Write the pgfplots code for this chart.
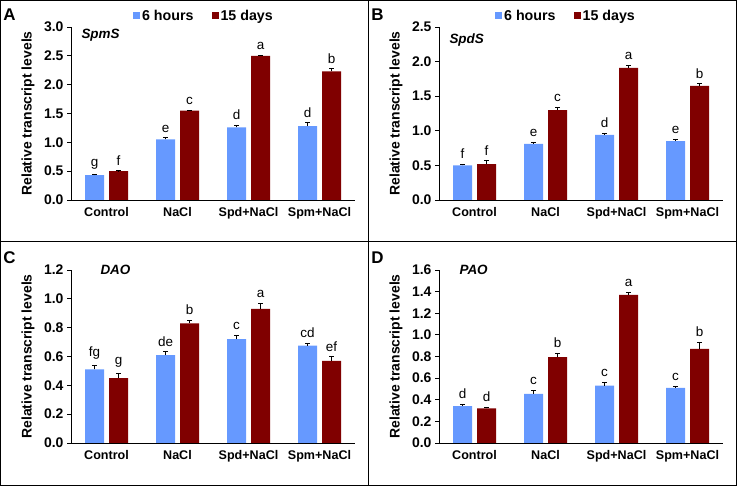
\documentclass[border=0pt]{standalone}
\usepackage{pgfplots}
\pgfplotsset{compat=1.18}
\usepackage{pgfplotstable}
\usepackage{fontspec}
\setmainfont{Liberation Sans}
\definecolor{cblue}{RGB}{102,153,255}
\definecolor{cred}{RGB}{128,0,0}

\pgfplotstableread{
x v6 e6 l6 v15 e15 l15
0 0.43 0.015 g 0.50 0.01 f
1 1.05 0.03 e 1.55 0.01 c
2 1.26 0.03 d 2.50 0.01 a
3 1.28 0.06 d 2.23 0.045 b
}\tA
\pgfplotstableread{
x v6 e6 l6 v15 e15 l15
0 0.50 0.02 f 0.52 0.05 f
1 0.81 0.02 e 1.30 0.035 c
2 0.94 0.02 d 1.91 0.04 a
3 0.85 0.025 e 1.65 0.03 b
}\tB
\pgfplotstableread{
x v6 e6 l6 v15 e15 l15
0 0.51 0.03 fg 0.45 0.035 g
1 0.61 0.023 de 0.83 0.02 b
2 0.72 0.025 c 0.93 0.037 a
3 0.675 0.018 cd 0.57 0.028 ef
}\tC
\pgfplotstableread{
x v6 e6 l6 v15 e15 l15
0 0.34 0.015 d 0.32 0.01 d
1 0.455 0.034 c 0.795 0.034 b
2 0.53 0.034 c 1.37 0.022 a
3 0.51 0.015 c 0.87 0.06 b
}\tD

\pgfplotsset{
  panel/.style={
    scale only axis, width=284bp, height=173bp,
    ybar=5bp, bar width=19bp,
    xmin=-0.5, xmax=3.5, ymin=0,
    axis x line*=bottom, axis y line*=left,
    axis line style={-, line width=0.8bp, black},
    xtick={0,1,2,3}, xticklabels={Control,NaCl,Spd+NaCl,Spm+NaCl},
    x tick style={draw=none},
    x tick label style={font=\bfseries\fontsize{12.6}{14}\selectfont},
    tick align=outside, major tick length=4bp,
    y tick style={line width=0.8bp, black},
    ytick pos=left,
    /pgf/number format/assume math mode=true,
    y tick label style={font=\bfseries\fontsize{14}{15}\selectfont, /pgf/number format/.cd, fixed, fixed zerofill, precision=1},
    ylabel={Relative transcript levels},
    every axis y label/.style={at={(rel axis cs:0,0.5)}, xshift=-43bp, rotate=90, anchor=center, font=\bfseries\fontsize{14}{15}\selectfont},
    clip=false,
  },
  sqleg/.style={legend image code/.code={\fill[##1] (0bp,-3.5bp) rectangle (7bp,3.5bp);}},
  bars/.style 2 args={fill=#1, draw=none,
    sqleg,
    nodes near coords, point meta=explicit symbolic,
    visualization depends on={\thisrow{#2}\as\err},
    every node near coord/.append style={font=\fontsize{13.5}{15}\selectfont, black, shift={(axis direction cs:0,\err)}, yshift=2bp},
    /pgfplots/error bars/y dir=plus, /pgfplots/error bars/y explicit,
    /pgfplots/error bars/error bar style={black, line width=0.6bp},
    /pgfplots/error bars/error mark options={black, rotate=90, mark size=2.2bp, line width=0.6bp}},
  legsty/.style={legend style={at={(#1,1.064)}, anchor=west, draw=none, fill=none, inner sep=0pt, legend columns=2, font=\bfseries\fontsize{14.3}{15}\selectfont, /tikz/every even column/.append style={column sep=16bp}}},
}

\begin{document}
\begin{tikzpicture}[x=1bp,y=1bp]
\path[use as bounding box] (0,0) rectangle (737,486);
\draw[line width=1bp] (0.5,0.5) rectangle (736.5,485.5);
\draw[line width=1bp] (368,0) -- (368,486);
\draw[line width=1bp] (0,244) -- (737,244);

% A
\begin{axis}[panel, at={(71bp,286bp)}, anchor=south west, ymax=3.0, ytick={0,0.5,...,3.0}, legsty=0.218]
\addplot[bars={cblue}{e6}] table[x=x, y=v6, y error=e6, meta=l6] {\tA};
\addlegendentry{6 hours}
\addplot[bars={cred}{e15}] table[x=x, y=v15, y error=e15, meta=l15] {\tA};
\addlegendentry{15 days}
\end{axis}

% B
\begin{axis}[panel, at={(439bp,286bp)}, anchor=south west, ymax=2.5, ytick={0,0.5,...,2.5}, legsty=0.197]
\addplot[bars={cblue}{e6}] table[x=x, y=v6, y error=e6, meta=l6] {\tB};
\addlegendentry{6 hours}
\addplot[bars={cred}{e15}] table[x=x, y=v15, y error=e15, meta=l15] {\tB};
\addlegendentry{15 days}
\end{axis}

% C
\begin{axis}[panel, at={(71bp,43bp)}, anchor=south west, ymax=1.2, ytick={0,0.2,...,1.2}]
\addplot[bars={cblue}{e6}] table[x=x, y=v6, y error=e6, meta=l6] {\tC};
\addplot[bars={cred}{e15}] table[x=x, y=v15, y error=e15, meta=l15] {\tC};
\end{axis}

% D
\begin{axis}[panel, at={(439bp,43bp)}, anchor=south west, ymax=1.6, ytick={0,0.2,...,1.6}]
\addplot[bars={cblue}{e6}] table[x=x, y=v6, y error=e6, meta=l6] {\tD};
\addplot[bars={cred}{e15}] table[x=x, y=v15, y error=e15, meta=l15] {\tD};
\end{axis}

\node[anchor=west, font=\bfseries\itshape\fontsize{13.5}{15}\selectfont] at (78,451) {SpmS};
\node[anchor=west, font=\bfseries\itshape\fontsize{13.5}{15}\selectfont] at (446,446) {SpdS};
\node[anchor=west, font=\bfseries\itshape\fontsize{13.5}{15}\selectfont] at (97,216) {DAO};
\node[anchor=west, font=\bfseries\itshape\fontsize{13.5}{15}\selectfont] at (456,216) {PAO};

\node[font=\bfseries\fontsize{17}{18}\selectfont] at (9.5,471) {A};
\node[font=\bfseries\fontsize{17}{18}\selectfont] at (377.5,471) {B};
\node[font=\bfseries\fontsize{17}{18}\selectfont] at (9.5,228) {C};
\node[font=\bfseries\fontsize{17}{18}\selectfont] at (377.5,228) {D};
\end{tikzpicture}
\end{document}
